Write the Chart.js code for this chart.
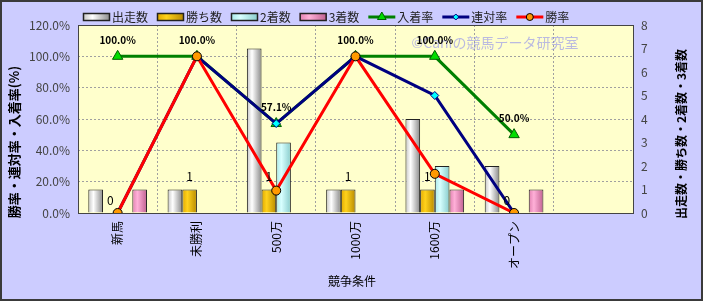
<!DOCTYPE html>
<html>
<head>
<meta charset="utf-8">
<script src="https://cdn.jsdelivr.net/npm/chart.js@4.4.1/dist/chart.umd.min.js"></script>
<style>
  html, body { margin: 0; padding: 0; background: #ccccff; }
  canvas { display: block; }
</style>
</head>
<body>
<canvas id="chart" width="703" height="301"></canvas>
<script>
/* データ */
var categories = ['新馬', '未勝利', '500万', '1000万', '1600万', 'オープン', ''];
var runs    = [1, 1, 7, 1, 4, 2];
var wins    = [0, 1, 1, 1, 1, 0];
var seconds = [0, 0, 3, 0, 2, 0];
var thirds  = [1, 0, 0, 0, 1, 1];
var placeRate  = [100, 100, 57.1, 100, 100, 50];
var rentaiRate = [0, 100, 57.1, 100, 75, 0];
var winRate    = [0, 100, 14.3, 100, 25, 0];
var rateTicks  = [0, 20, 40, 60, 80, 100, 120];
var countTicks = [0, 1, 2, 3, 4, 5, 6, 7, 8];

var FONT = "'Noto Sans CJK JP', 'Liberation Sans', sans-serif";

/* 棒グラフのグラデーション */
var barStops = {
  '出走数': [[0, '#c4c4c4'], [0.35, '#ffffff'], [1, '#8a8a8a']],
  '勝ち数': [[0, '#e0a800'], [0.35, '#ffd21c'], [1, '#b88a00']],
  '2着数':  [[0, '#a8e8e8'], [0.35, '#d8ffff'], [1, '#88cccc']],
  '3着数':  [[0, '#e080b0'], [0.35, '#ffb0d8'], [1, '#c06090']]
};

function barGradient(ctx, x0, x1, label) {
  var g = ctx.createLinearGradient(x0, 0, x1, 0);
  barStops[label].forEach(function (s) { g.addColorStop(s[0], s[1]); });
  return g;
}

function zeroless(c) { return c.raw === 0 ? 0 : 1; }

function barSet(label, data) {
  return {
    type: 'bar', label: label, data: data, yAxisID: 'y2', order: 10,
    backgroundColor: barStops[label][1][1],
    borderColor: '#222', borderWidth: zeroless, borderSkipped: 'start',
    categoryPercentage: 0.74, barPercentage: 1
  };
}

function lineSet(label, data, color, style, radius, fill, edge, order) {
  return {
    type: 'line', label: label, data: data, yAxisID: 'y', order: order,
    borderColor: color, borderWidth: 3, tension: 0,
    pointStyle: style, pointRadius: radius, pointBackgroundColor: fill,
    pointBorderColor: edge, pointBorderWidth: 1
  };
}

var decor = {
  id: 'decor',
  beforeDraw: function (chart) {
    var c = chart.ctx, a = chart.chartArea;
    c.save();
    c.fillStyle = '#ccccff';
    c.fillRect(0, 0, chart.width, chart.height);
    c.strokeStyle = '#3a3a3a';
    c.lineWidth = 2;
    c.strokeRect(1, 1, chart.width - 2, chart.height - 2);
    c.fillStyle = '#ffffcc';
    c.fillRect(a.left, a.top, a.right - a.left, a.bottom - a.top);
    c.restore();
  },
  beforeDatasetsDraw: function (chart) {
    var c = chart.ctx, a = chart.chartArea;
    c.save();
    c.strokeStyle = '#444';
    c.lineWidth = 1;
    c.strokeRect(a.left + 0.5, a.top + 0.5, a.right - a.left, a.bottom - a.top);
    c.font = '14px ' + FONT;
    c.fillStyle = 'rgba(130,130,240,0.55)';
    c.textAlign = 'center';
    c.textBaseline = 'middle';
    c.fillText('©Caniの競馬データ研究室', 495, 43);
    c.restore();
    chart.data.datasets.forEach(function (ds, i) {
      if (ds.type !== 'bar') return;
      chart.getDatasetMeta(i).data.forEach(function (el) {
        var g = barGradient(c, el.x - el.width / 2, el.x + el.width / 2, ds.label);
        el.options = Object.assign({}, el.options, { backgroundColor: g });
      });
    });
  },
  afterDatasetsDraw: function (chart) {
    var c = chart.ctx;
    c.save();
    c.fillStyle = '#000';
    c.textAlign = 'center';
    c.textBaseline = 'middle';
    chart.getDatasetMeta(4).data.forEach(function (el, i) {
      c.font = 'bold 10px ' + FONT;
      c.fillText(placeRate[i].toFixed(1) + '%', el.x, el.y - 16);
    });
    chart.getDatasetMeta(1).data.forEach(function (el, i) {
      c.font = '12px ' + FONT;
      c.fillText(String(wins[i]), el.x, el.y - 13);
    });
    c.restore();
  },
  afterDraw: function (chart) {
    var c = chart.ctx;
    c.save();
    /* 凡例 */
    var x = 83, y = 17;
    c.font = '12px ' + FONT;
    c.textBaseline = 'middle';
    c.textAlign = 'left';
    chart.data.datasets.forEach(function (ds) {
      if (ds.type === 'bar') {
        c.fillStyle = barGradient(c, x, x + 27, ds.label);
        c.fillRect(x, y - 3.5, 27, 7);
        c.strokeStyle = '#222';
        c.lineWidth = 1.5;
        c.strokeRect(x + 0.5, y - 3.5, 26, 7);
      } else {
        c.strokeStyle = ds.borderColor;
        c.lineWidth = 3;
        c.beginPath();
        c.moveTo(x, y);
        c.lineTo(x + 27, y);
        c.stroke();
        c.fillStyle = ds.pointBackgroundColor;
        c.strokeStyle = ds.pointBorderColor;
        c.lineWidth = 1;
        Chart.helpers.drawPoint(c, {
          pointStyle: ds.pointStyle, radius: ds.pointRadius - 1, borderWidth: 1
        }, x + 13.5, y);
      }
      c.fillStyle = '#222';
      c.fillText(ds.label, x + 29, y);
      x += 29 + c.measureText(ds.label).width + 9;
    });
    /* 軸タイトル */
    c.fillStyle = '#000';
    c.textAlign = 'center';
    c.font = '12px ' + FONT;
    c.fillText('競争条件', 352, 281);
    c.font = 'bold 13px ' + FONT;
    c.translate(14, 142);
    c.rotate(-Math.PI / 2);
    c.fillText('勝率・連対率・入着率(%)', 0, 0);
    c.setTransform(1, 0, 0, 1, 0, 0);
    c.font = 'bold 12px ' + FONT;
    c.translate(681, 134);
    c.rotate(-Math.PI / 2);
    c.fillText('出走数・勝ち数・2着数・3着数', 0, 0);
    c.restore();
  }
};

var chart = new Chart(document.getElementById('chart'), {
  type: 'bar',
  data: {
    labels: categories,
    datasets: [
      barSet('出走数', runs),
      barSet('勝ち数', wins),
      barSet('2着数', seconds),
      barSet('3着数', thirds),
      lineSet('入着率', placeRate, '#008000', 'triangle', 6, '#00dd00', '#006000', 3),
      lineSet('連対率', rentaiRate, '#000080', 'rectRot', 4, '#00ffff', '#000080', 2),
      lineSet('勝率', winRate, '#ff0000', 'circle', 4.5, '#ff9900', '#000000', 1)
    ]
  },
  options: {
    responsive: false,
    animation: false,
    devicePixelRatio: 1,
    layout: { padding: { top: 25 } },
    plugins: {
      legend: { display: false },
      tooltip: { enabled: false }
    },
    scales: {
      x: {
        offset: true,
        grid: { offset: true, color: '#a0a0a0', drawTicks: false },
        border: { display: false, dash: [2, 2] },
        ticks: {
          autoSkip: false, minRotation: 90, maxRotation: 90, padding: 8,
          color: '#000', font: { family: FONT, size: 12 }
        },
        afterFit: function (s) { s.height = 88; }
      },
      y: {
        position: 'left', min: 0, max: 120,
        afterBuildTicks: function (s) { s.ticks = rateTicks.map(function (v) { return { value: v }; }); },
        grid: { color: '#a0a0a0', drawTicks: false },
        border: { display: false, dash: [2, 2] },
        ticks: {
          padding: 8, color: '#444', font: { family: FONT, size: 12 },
          callback: function (v) { return v.toFixed(1) + '%'; }
        },
        afterFit: function (s) { s.width = 78; }
      },
      y2: {
        position: 'right', min: 0, max: 8,
        afterBuildTicks: function (s) { s.ticks = countTicks.map(function (v) { return { value: v }; }); },
        grid: { drawOnChartArea: false, drawTicks: false },
        border: { display: false },
        ticks: { padding: 8, color: '#444', font: { family: FONT, size: 12 } },
        afterFit: function (s) { s.width = 70; }
      }
    }
  },
  plugins: [decor]
});
</script>
</body>
</html>
